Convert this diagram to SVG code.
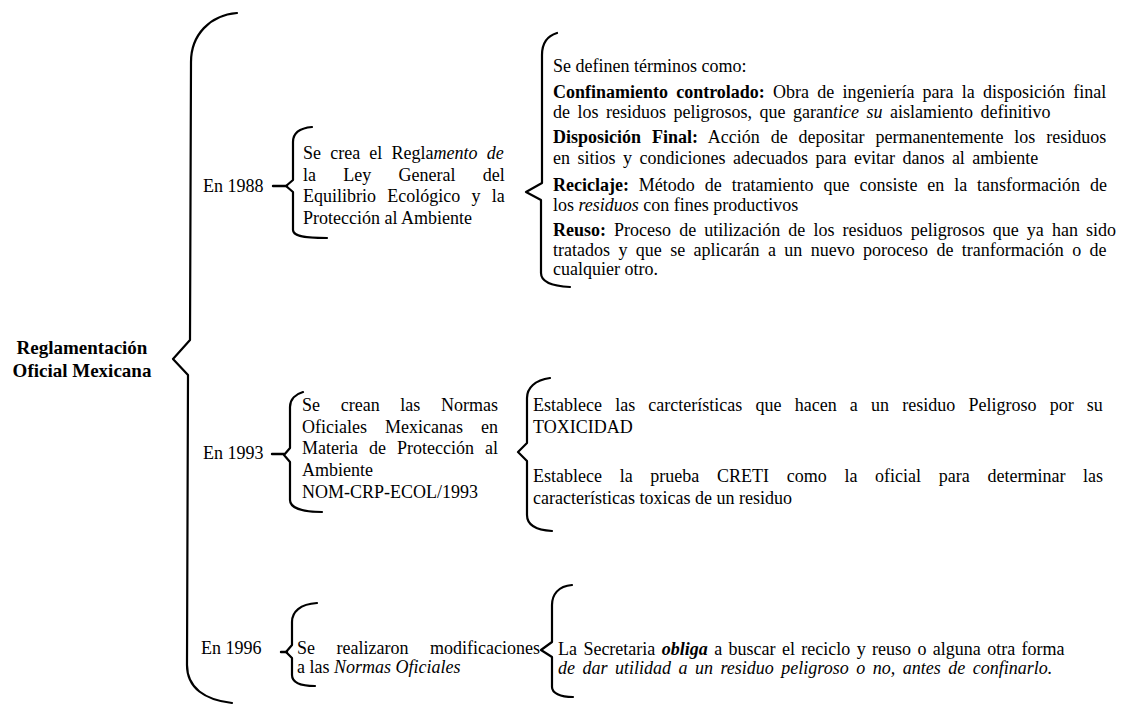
<svg xmlns="http://www.w3.org/2000/svg" width="1133" height="705" viewBox="0 0 1133 705">
  <style>
    text { font-family: "Liberation Serif", "Times New Roman", serif; font-size: 18px; fill: #000; }
    .title { font-size: 19px; font-weight: bold; }
    .b { font-weight: bold; }
    .i { font-style: italic; }
    .bi { font-weight: bold; font-style: italic; }
    .brace { fill: none; stroke: #000; stroke-width: 2.2; stroke-linecap: round; stroke-linejoin: round; }
    .dash { fill: none; stroke: #000; stroke-width: 2.4; stroke-linecap: round; }
  </style>
  <rect width="1133" height="705" fill="#fff"/>

  <!-- braces and short leader dashes -->
  <g id="connectors">
    <!-- main brace -->
    <path class="brace" d="M237,13 C210,15 191,35 191,62 L190,340 L173,359 L188,375 L187,665 C187,688 205,700 232,703"/>
    <!-- 1988 -->
    <line class="dash" x1="273" y1="186" x2="287" y2="186"/>
    <path class="brace" d="M312,127 C300,128 293,132 293,142 L293,180 L286,186 L293,192 L293,230 C293,235 300,238 327,238"/>
    <path class="brace" d="M557,33 C547,36 542,44 542,55 L542,183 L526,192 L541,200 L541,273 C541,281 550,286 570,287"/>
    <!-- 1993 -->
    <line class="dash" x1="272" y1="454" x2="284" y2="454"/>
    <path class="brace" d="M303,392 C296,394 290,399 290,407 L290,448 L284,455 L290,462 L290,500 C290,507 300,512 322,512"/>
    <path class="brace" d="M550,378 C535,380 527,388 527,398 L527,443 L518,452 L527,461 L527,515 C527,525 535,530 552,531"/>
    <!-- 1996 -->
    <line class="dash" x1="281" y1="652" x2="287" y2="652"/>
    <path class="brace" d="M317,603 C300,604 292,612 292,622 L292,645 L286,652 L292,658 L292,675 C292,682 300,686 315,686"/>
    <path class="brace" d="M572,585 C558,586 552,595 552,605 L552,642 L541,650 L552,657 L552,687 C552,693 560,697 573,697"/>
  </g>

  <g id="title">
    <text class="title" x="82" y="354" text-anchor="middle">Reglamentación</text>
    <text class="title" x="82" y="377" text-anchor="middle">Oficial Mexicana</text>
  </g>

  <g id="year-1988">
    <text x="203" y="192">En 1988</text>
  </g>
  <g id="reglamento-1988">
    <text x="303" y="159" word-spacing="4.7">Se crea el Regla<tspan class="i">mento de</tspan></text>
    <text x="303" y="181" word-spacing="22.8">la Ley General del</text>
    <text x="303" y="202" word-spacing="6.8">Equilibrio Ecológico y la</text>
    <text x="303" y="224">Protección al Ambiente</text>
  </g>
  <g id="definiciones-1988">
    <text x="553" y="72">Se definen términos como:</text>
    <text x="553" y="98" word-spacing="3.7"><tspan class="b">Confinamiento controlado:</tspan> Obra de ingeniería para la disposición final</text>
    <text x="553" y="118" word-spacing="3">de los residuos peligrosos, que garan<tspan class="i">tice su</tspan> aislamiento definitivo</text>
    <text x="553" y="143" word-spacing="6.4"><tspan class="b">Disposición Final:</tspan> Acción de depositar permanentemente los residuos</text>
    <text x="553" y="164" word-spacing="3">en sitios y condiciones adecuados para evitar danos al ambiente</text>
    <text x="553" y="191" word-spacing="5.4"><tspan class="b">Reciclaje:</tspan> Método de tratamiento que consiste en la tansformación de</text>
    <text x="553" y="211">los <tspan class="i">residuos</tspan> con fines productivos</text>
    <text x="553" y="236" word-spacing="3.6"><tspan class="b">Reuso:</tspan> Proceso de utilización de los residuos peligrosos que ya han sido</text>
    <text x="553" y="256" word-spacing="3.9">tratados y que se aplicarán a un nuevo poroceso de tranformación o de</text>
    <text x="553" y="275">cualquier otro.</text>
  </g>

  <g id="year-1993">
    <text x="203" y="459">En 1993</text>
  </g>
  <g id="normas-1993">
    <text x="302" y="411" word-spacing="16.2">Se crean las Normas</text>
    <text x="302" y="433" word-spacing="13.5">Oficiales Mexicanas en</text>
    <text x="302" y="454" word-spacing="6.5">Materia de Protección al</text>
    <text x="302" y="476">Ambiente</text>
    <text x="302" y="498">NOM-CRP-ECOL/1993</text>
  </g>
  <g id="toxicidad-1993">
    <text x="533" y="411" word-spacing="8.7">Establece las carcterísticas que hacen a un residuo Peligroso por su</text>
    <text x="533" y="433">TOXICIDAD</text>
    <text x="533" y="482" word-spacing="13.2">Establece la prueba CRETI como la oficial para determinar las</text>
    <text x="533" y="504">características toxicas de un residuo</text>
  </g>

  <g id="year-1996">
    <text x="201" y="654">En 1996</text>
  </g>
  <g id="modificaciones-1996">
    <text x="297" y="654" word-spacing="17">Se realizaron modificaciones</text>
    <text x="297" y="673">a las <tspan class="i">Normas Oficiales</tspan></text>
  </g>
  <g id="secretaria-1996">
    <text x="558" y="655" word-spacing="1.9">La Secretaria <tspan class="bi">obliga</tspan> a buscar el reciclo y reuso o alguna otra forma</text>
    <text x="558" y="674" class="i" word-spacing="3">de dar utilidad a un residuo peligroso o no, antes de confinarlo.</text>
  </g>
</svg>
